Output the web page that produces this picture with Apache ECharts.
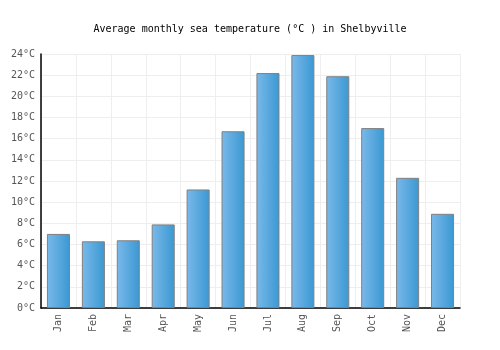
<!DOCTYPE html>
<html>
<head>
<meta charset="utf-8">
<script src="https://cdn.jsdelivr.net/npm/echarts@6/dist/echarts.min.js"></script>
<style>
  html, body { margin: 0; padding: 0; background: #fff; }
  #chart { width: 500px; height: 350px; }
</style>
</head>
<body>
<div id="chart"></div>
<script>
// monthly sea temperature values
const months = ["Jan", "Feb", "Mar", "Apr", "May", "Jun", "Jul", "Aug", "Sep", "Oct", "Nov", "Dec"];
const seaTemp = [7.0, 6.3, 6.4, 7.9, 11.2, 16.7, 22.2, 23.9, 21.9, 17.0, 12.3, 8.9];
const yTicks = { min: 0, max: 24, step: 2 };

const font = "DejaVu Sans Mono";
const chart = echarts.init(document.getElementById("chart"));

chart.setOption({
  animation: false,
  title: {
    text: "Average monthly sea temperature (°C ) in Shelbyville",
    left: "center",
    top: 19,
    textStyle: { fontFamily: font, fontSize: 10, fontWeight: "normal", color: "#000" },
  },
  grid: { left: 41, right: 40, top: 54, bottom: 42 },
  xAxis: {
    type: "category",
    data: months,
    axisLine: { lineStyle: { color: "#000", width: 1.5 } },
    axisTick: { show: false },
    axisLabel: { rotate: 90, color: "#555", fontFamily: font, fontSize: 10, margin: 6 },
    splitLine: { show: true, interval: 0, lineStyle: { color: "#eee", width: 1 } },
  },
  yAxis: {
    type: "value",
    min: yTicks.min,
    max: yTicks.max,
    interval: yTicks.step,
    axisLine: { show: true, lineStyle: { color: "#000", width: 1.5 } },
    axisTick: { show: false },
    axisLabel: { formatter: "{value}°C", color: "#555", fontFamily: font, fontSize: 10, margin: 6 },
    splitLine: { lineStyle: { color: "#eee", width: 1 } },
  },
  series: [
    {
      type: "bar",
      data: seaTemp,
      barWidth: "66%",
      itemStyle: {
        borderColor: "#808080",
        borderWidth: 1,
        color: new echarts.graphic.LinearGradient(0, 0, 1, 0, [
          { offset: 0, color: "#7ab9ea" },
          { offset: 1, color: "#3a98d2" },
        ]),
      },
    },
  ],
});
</script>
</body>
</html>
